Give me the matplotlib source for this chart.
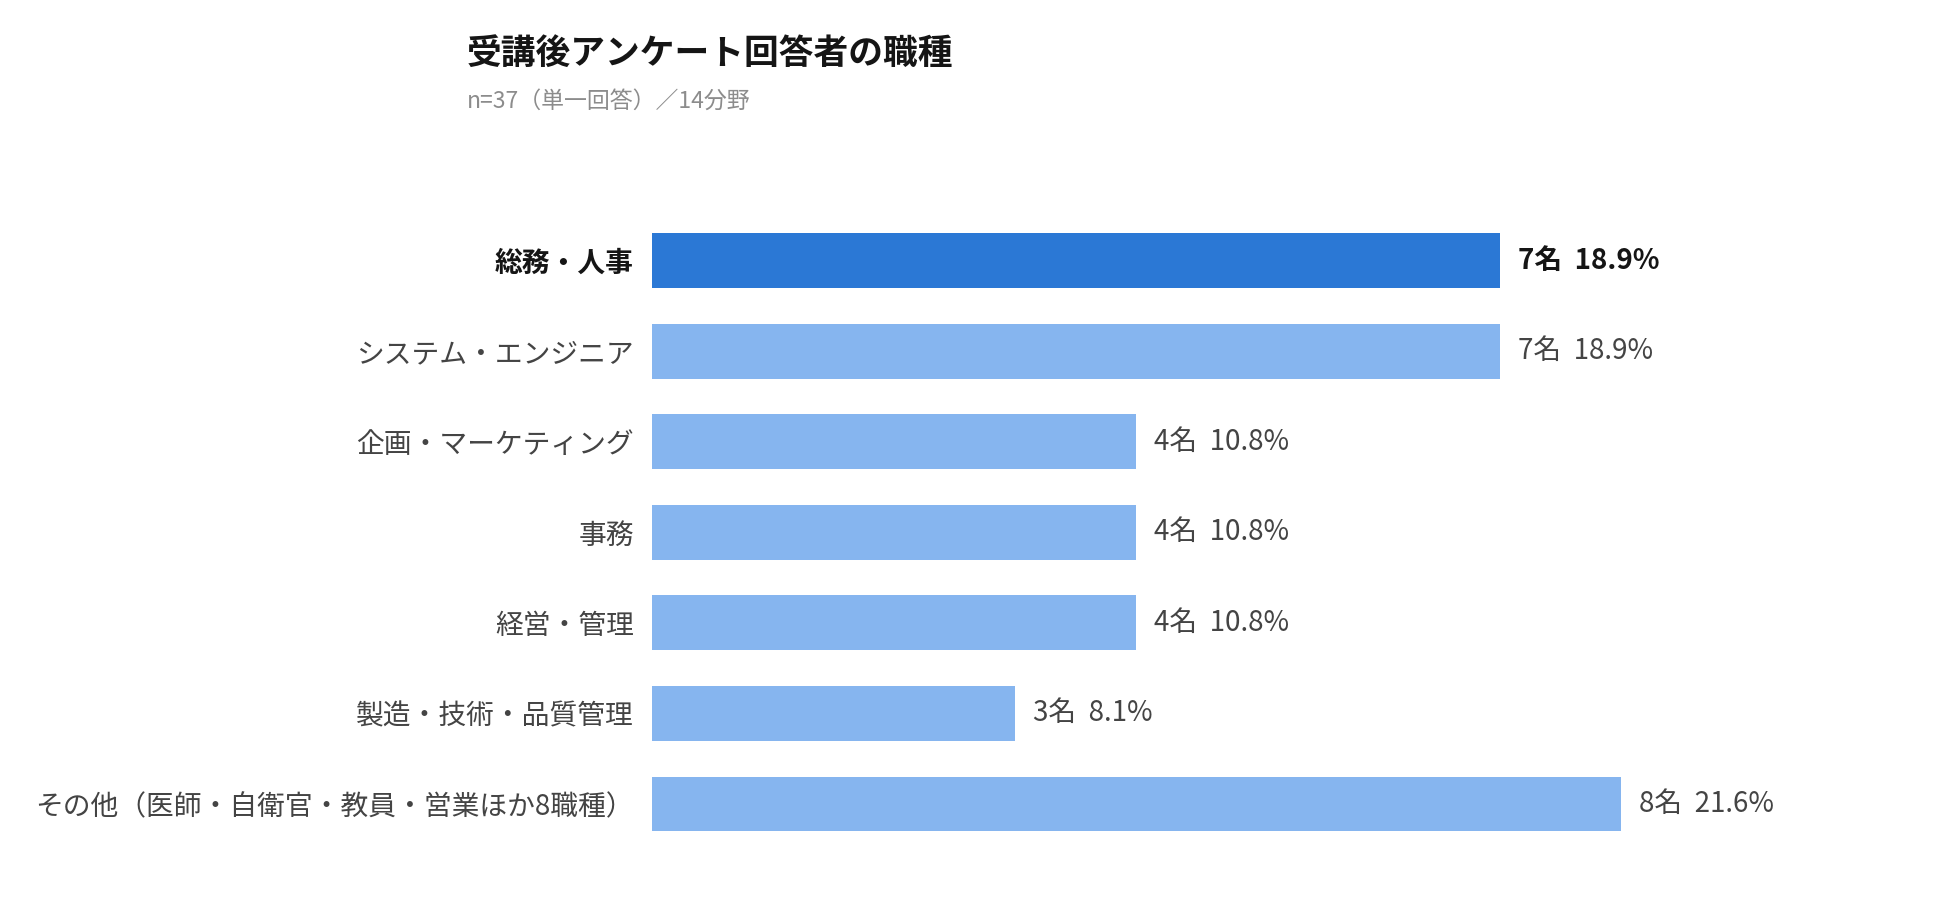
import matplotlib
matplotlib.use("Agg")
import matplotlib.pyplot as plt

plt.rcParams['font.family'] = ['Noto Sans CJK JP', 'DejaVu Sans']

categories = [
    "総務・人事",
    "システム・エンジニア",
    "企画・マーケティング",
    "事務",
    "経営・管理",
    "製造・技術・品質管理",
    "その他（医師・自衛官・教員・営業ほか8職種）",
]
counts = [7, 7, 4, 4, 4, 3, 8]
percents = [18.9, 18.9, 10.8, 10.8, 10.8, 8.1, 21.6]
highlight = 0

title = "受講後アンケート回答者の職種"
subtitle = "n=37（単一回答）／14分野"

dark_blue = "#2B78D5"
light_blue = "#86B5EF"
text_dark = "#151515"
text_gray = "#444444"

W, H = 1950, 901
fig = plt.figure(figsize=(W / 100, H / 100), dpi=100)

# axes placed in pixel terms: bars start at x=652, 121 px per person
px_per_unit = 121.1
left_px, right_px = 652, 1850
top_px, bottom_px = 215.2, 849.3
ax = fig.add_axes([left_px / W, 1 - bottom_px / H,
                   (right_px - left_px) / W, (bottom_px - top_px) / H])

ypos = list(range(len(categories)))
colors = [dark_blue if i == highlight else light_blue for i in ypos]
bars = ax.barh(ypos, counts, height=0.607, color=colors)

ax.set_xlim(0, (right_px - left_px) / px_per_unit)
ax.set_ylim(len(categories) - 0.5, -0.5)

ax.set_yticks(ypos)
ax.set_yticklabels(categories, fontsize=20, color=text_gray)
ax.tick_params(axis='y', length=0, pad=13)
ax.set_xticks([])
for s in ax.spines.values():
    s.set_visible(False)

labels = [f"{c}名  {p}%" for c, p in zip(counts, percents)]
texts = ax.bar_label(bars, labels=labels, padding=13, fontsize=20, color=text_gray)

ticklabels = ax.get_yticklabels()
ticklabels[highlight].set_fontweight('bold')
ticklabels[highlight].set_color(text_dark)
texts[highlight].set_fontweight('bold')
texts[highlight].set_color(text_dark)

fig.text(467 / W, 1 - 53 / H, title, fontsize=25, fontweight='bold',
         color=text_dark, va='center', ha='left')
fig.text(467 / W, 1 - 101 / H, subtitle, fontsize=16.5, color="#8c8c8c",
         va='center', ha='left')

fig.savefig("out.png", dpi=100, facecolor="white")
